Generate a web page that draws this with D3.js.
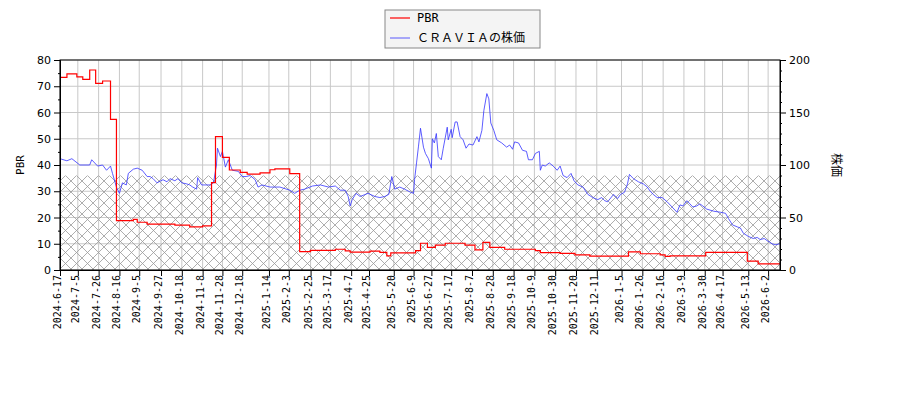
<!DOCTYPE html>
<html><head><meta charset="utf-8">
<script src="https://cdn.jsdelivr.net/npm/d3@7"></script>
<style>body{margin:0;background:#fff;font-family:"DejaVu Sans",sans-serif;}</style>
</head><body><div id="chart"></div>
<script>
// day offsets from 2024-06-17 and values
const startDate = "2024-06-17";
const endDay = 727;
const pbrDays = [0,7,17,23,30,36,43,51,57,74,78,88,116,131,144,153,157,164,171,182,189,202,212,217,232,242,253,278,288,293,313,323,330,334,359,364,371,379,389,409,419,427,434,449,480,485,505,520,535,574,586,606,611,616,652,694,705,727];
const pbrValues = [73.4,74.7,73.6,72.6,76.2,71.1,72,57.4,18.8,19.3,18.2,17.5,17.1,16.4,16.8,33.3,50.8,42.9,38.1,37.2,36.5,37,38.2,38.5,36.7,7.0,7.5,7.9,7.3,6.8,7.2,6.7,5.4,6.5,7.4,10.2,8.6,9.5,10.2,9.5,7.7,10.5,8.6,7.9,7.4,6.6,6.3,5.8,5.3,6.9,6.2,5.8,5.2,5.4,6.7,3.4,2.3,2.3];
// [day, price]
const priceSeries = [[0,106],[7,104],[12,106],[20,100],[30,100],[32,105],[38,99],[43,100],[47,95],[51,99],[53,92],[57,79],[60,73],[63,83],[67,81],[69,92],[74,96],[78,97],[83,95],[88,89],[91,89],[94,87],[98,83],[104,86],[108,84],[111,87],[116,85],[119,87],[123,83],[128,82],[131,81],[134,79],[138,77],[139,88],[143,81],[152,81],[155,83],[158,100],[159,116],[162,108],[164,113],[167,98],[170,105],[174,95],[180,94],[184,89],[188,89],[192,90],[197,86],[200,79],[204,81],[212,79],[222,79],[232,76],[237,73],[242,76],[247,77],[255,80],[263,81],[271,79],[278,80],[283,76],[288,76],[291,70],[293,61],[295,67],[299,73],[303,70],[311,73],[318,70],[323,69],[328,70],[332,72],[335,89],[338,77],[343,79],[348,77],[354,74],[357,73],[358,86],[360,102],[362,118],[364,135],[367,117],[369,111],[372,106],[375,97],[376,125],[378,121],[380,130],[382,108],[385,105],[387,116],[391,136],[392,124],[395,134],[396,126],[399,141],[401,141],[404,127],[407,124],[410,116],[413,120],[417,119],[421,127],[423,122],[426,133],[428,152],[431,168],[433,163],[435,140],[438,133],[441,124],[446,121],[451,117],[454,119],[457,115],[459,122],[463,121],[467,114],[471,113],[473,105],[477,105],[480,111],[484,113],[485,95],[487,100],[490,99],[494,102],[498,99],[502,95],[505,99],[508,90],[512,88],[516,92],[519,85],[523,81],[528,79],[533,72],[538,69],[543,67],[547,69],[550,66],[553,65],[559,72],[563,68],[566,72],[570,74],[573,82],[575,91],[579,87],[584,84],[589,82],[593,79],[596,75],[599,72],[603,69],[608,69],[613,65],[618,60],[623,55],[626,62],[629,61],[633,66],[636,63],[639,60],[643,61],[646,63],[649,61],[653,58],[660,56],[667,55],[672,54],[675,49],[679,43],[684,41],[687,40],[690,35],[695,32],[700,30],[704,31],[707,29],[711,30],[714,28],[719,25],[722,24],[727,25]];
const tickLabels = ["2024-6-17","2024-7-5","2024-7-26","2024-8-16","2024-9-5","2024-9-27","2024-10-18","2024-11-8","2024-11-28","2024-12-18","2025-1-14","2025-2-3","2025-2-25","2025-3-17","2025-4-7","2025-4-25","2025-5-20","2025-6-9","2025-6-27","2025-7-17","2025-8-7","2025-8-28","2025-9-18","2025-10-9","2025-10-30","2025-11-20","2025-12-11","2026-1-5","2026-1-26","2026-2-16","2026-3-9","2026-3-30","2026-4-17","2026-5-13","2026-6-2"];
const bandTop = 36;

const W = 900, H = 400;
const m = {top: 60, right: 120, bottom: 130, left: 60};
const w = W - m.left - m.right, h = H - m.top - m.bottom;
const parse = d3.timeParse("%Y-%m-%d");
const t0 = parse(startDate);
const toDate = d => d3.timeDay.offset(t0, d);

const svg = d3.select("#chart").append("svg").attr("width", W).attr("height", H);
const defs = svg.append("defs");
const pat = defs.append("pattern").attr("id", "hatch").attr("patternUnits", "userSpaceOnUse")
    .attr("width", 11).attr("height", 11);
pat.append("path").attr("d", "M0,0L11,11M11,0L0,11").attr("stroke", "#999").attr("stroke-width", 0.8);
defs.append("clipPath").attr("id", "clip").append("rect").attr("width", w).attr("height", h);

const g = svg.append("g").attr("transform", `translate(${m.left},${m.top})`);

const x = d3.scaleTime().domain([t0, toDate(endDay)]).range([0, w]);
const yL = d3.scaleLinear().domain([0, 80]).range([h, 0]);
const yR = d3.scaleLinear().domain([0, 200]).range([h, 0]);
const tickDates = tickLabels.map(s => d3.timeParse("%Y-%-m-%-d")(s));

// grid
g.append("g").selectAll("line").data(tickDates).enter().append("line")
    .attr("x1", d => x(d)).attr("x2", d => x(d)).attr("y1", 0).attr("y2", h)
    .attr("stroke", "#c8c8c8");
g.append("g").selectAll("line").data(d3.range(0, 81, 10)).enter().append("line")
    .attr("x1", 0).attr("x2", w).attr("y1", d => yL(d)).attr("y2", d => yL(d))
    .attr("stroke", "#c8c8c8");

// hatched band
g.append("rect").attr("x", 0).attr("width", w).attr("y", yL(bandTop)).attr("height", h - yL(bandTop))
    .attr("fill", "url(#hatch)");

const lines = g.append("g").attr("clip-path", "url(#clip)");
lines.append("path").datum(priceSeries.map(d => [toDate(d[0]), d[1]]))
    .attr("fill", "none").attr("stroke", "#3333ff").attr("stroke-width", 0.8)
    .attr("d", d3.line().x(d => x(d[0])).y(d => yR(d[1])));
lines.append("path").datum(pbrDays.map((d, i) => [toDate(d), pbrValues[i]]))
    .attr("fill", "none").attr("stroke", "#ff0000").attr("stroke-width", 1.2)
    .attr("d", d3.line().curve(d3.curveStepAfter).x(d => x(d[0])).y(d => yL(d[1])));

// axes
const fontAxis = "DejaVu Sans";
const ax = g.append("g").attr("transform", `translate(0,${h})`)
    .call(d3.axisBottom(x).tickValues(tickDates).tickFormat((d, i) => tickLabels[i]).tickSizeOuter(0));
ax.selectAll("text").attr("transform", "rotate(-90)").attr("x", -5).attr("y", -3).attr("dy", "0.35em")
    .style("text-anchor", "end").style("font-family", "DejaVu Sans Mono").style("font-size", "10px");
const al = g.append("g").call(d3.axisLeft(yL).ticks(8).tickSizeOuter(0));
al.selectAll("text").style("font-family", fontAxis).style("font-size", "11px");
g.append("g").call(d3.axisLeft(yL).tickValues(d3.range(5, 80, 10)).tickSize(2).tickFormat(""));
const ar = g.append("g").attr("transform", `translate(${w},0)`).call(d3.axisRight(yR).tickValues([0,50,100,150,200]).tickSizeOuter(0));
ar.selectAll("text").style("font-family", fontAxis).style("font-size", "11px");
g.append("g").attr("transform", `translate(${w},0)`).call(d3.axisRight(yR).tickValues(d3.range(10, 200, 10).filter(v => v % 50)).tickSize(2).tickFormat(""));
g.append("rect").attr("width", w).attr("height", h).attr("fill", "none").attr("stroke", "#000");

g.append("text").attr("transform", `translate(-36,${h / 2}) rotate(-90)`).attr("text-anchor", "middle")
    .style("font-size", "11px").style("font-family", "DejaVu Sans Mono").text("PBR");
g.append("text").attr("transform", `translate(${w + 52},${h / 2}) rotate(90)`).attr("text-anchor", "middle")
    .style("font-size", "12px").style("font-family", "Noto Sans CJK JP").text("株価");

// legend
const lg = svg.append("g").attr("transform", "translate(385,10)");
lg.append("rect").attr("width", 155).attr("height", 38).attr("fill", "#f4f4f4").attr("stroke", "#888");
const items = [["PBR", "#ff0000"], ["ＣＲＡＶＩＡの株価", "#3333ff"]];
items.forEach((it, i) => {
    lg.append("line").attr("x1", 5).attr("x2", 25).attr("y1", 8 + i * 20).attr("y2", 8 + i * 20)
        .attr("stroke", it[1]).attr("stroke-width", i ? 0.8 : 1.2);
    lg.append("text").attr("x", 32).attr("y", 12 + i * 20).style("font-size", "12px")
        .style("font-family", i ? "Noto Sans CJK JP" : "DejaVu Sans Mono").text(it[0]);
});
</script></body></html>
